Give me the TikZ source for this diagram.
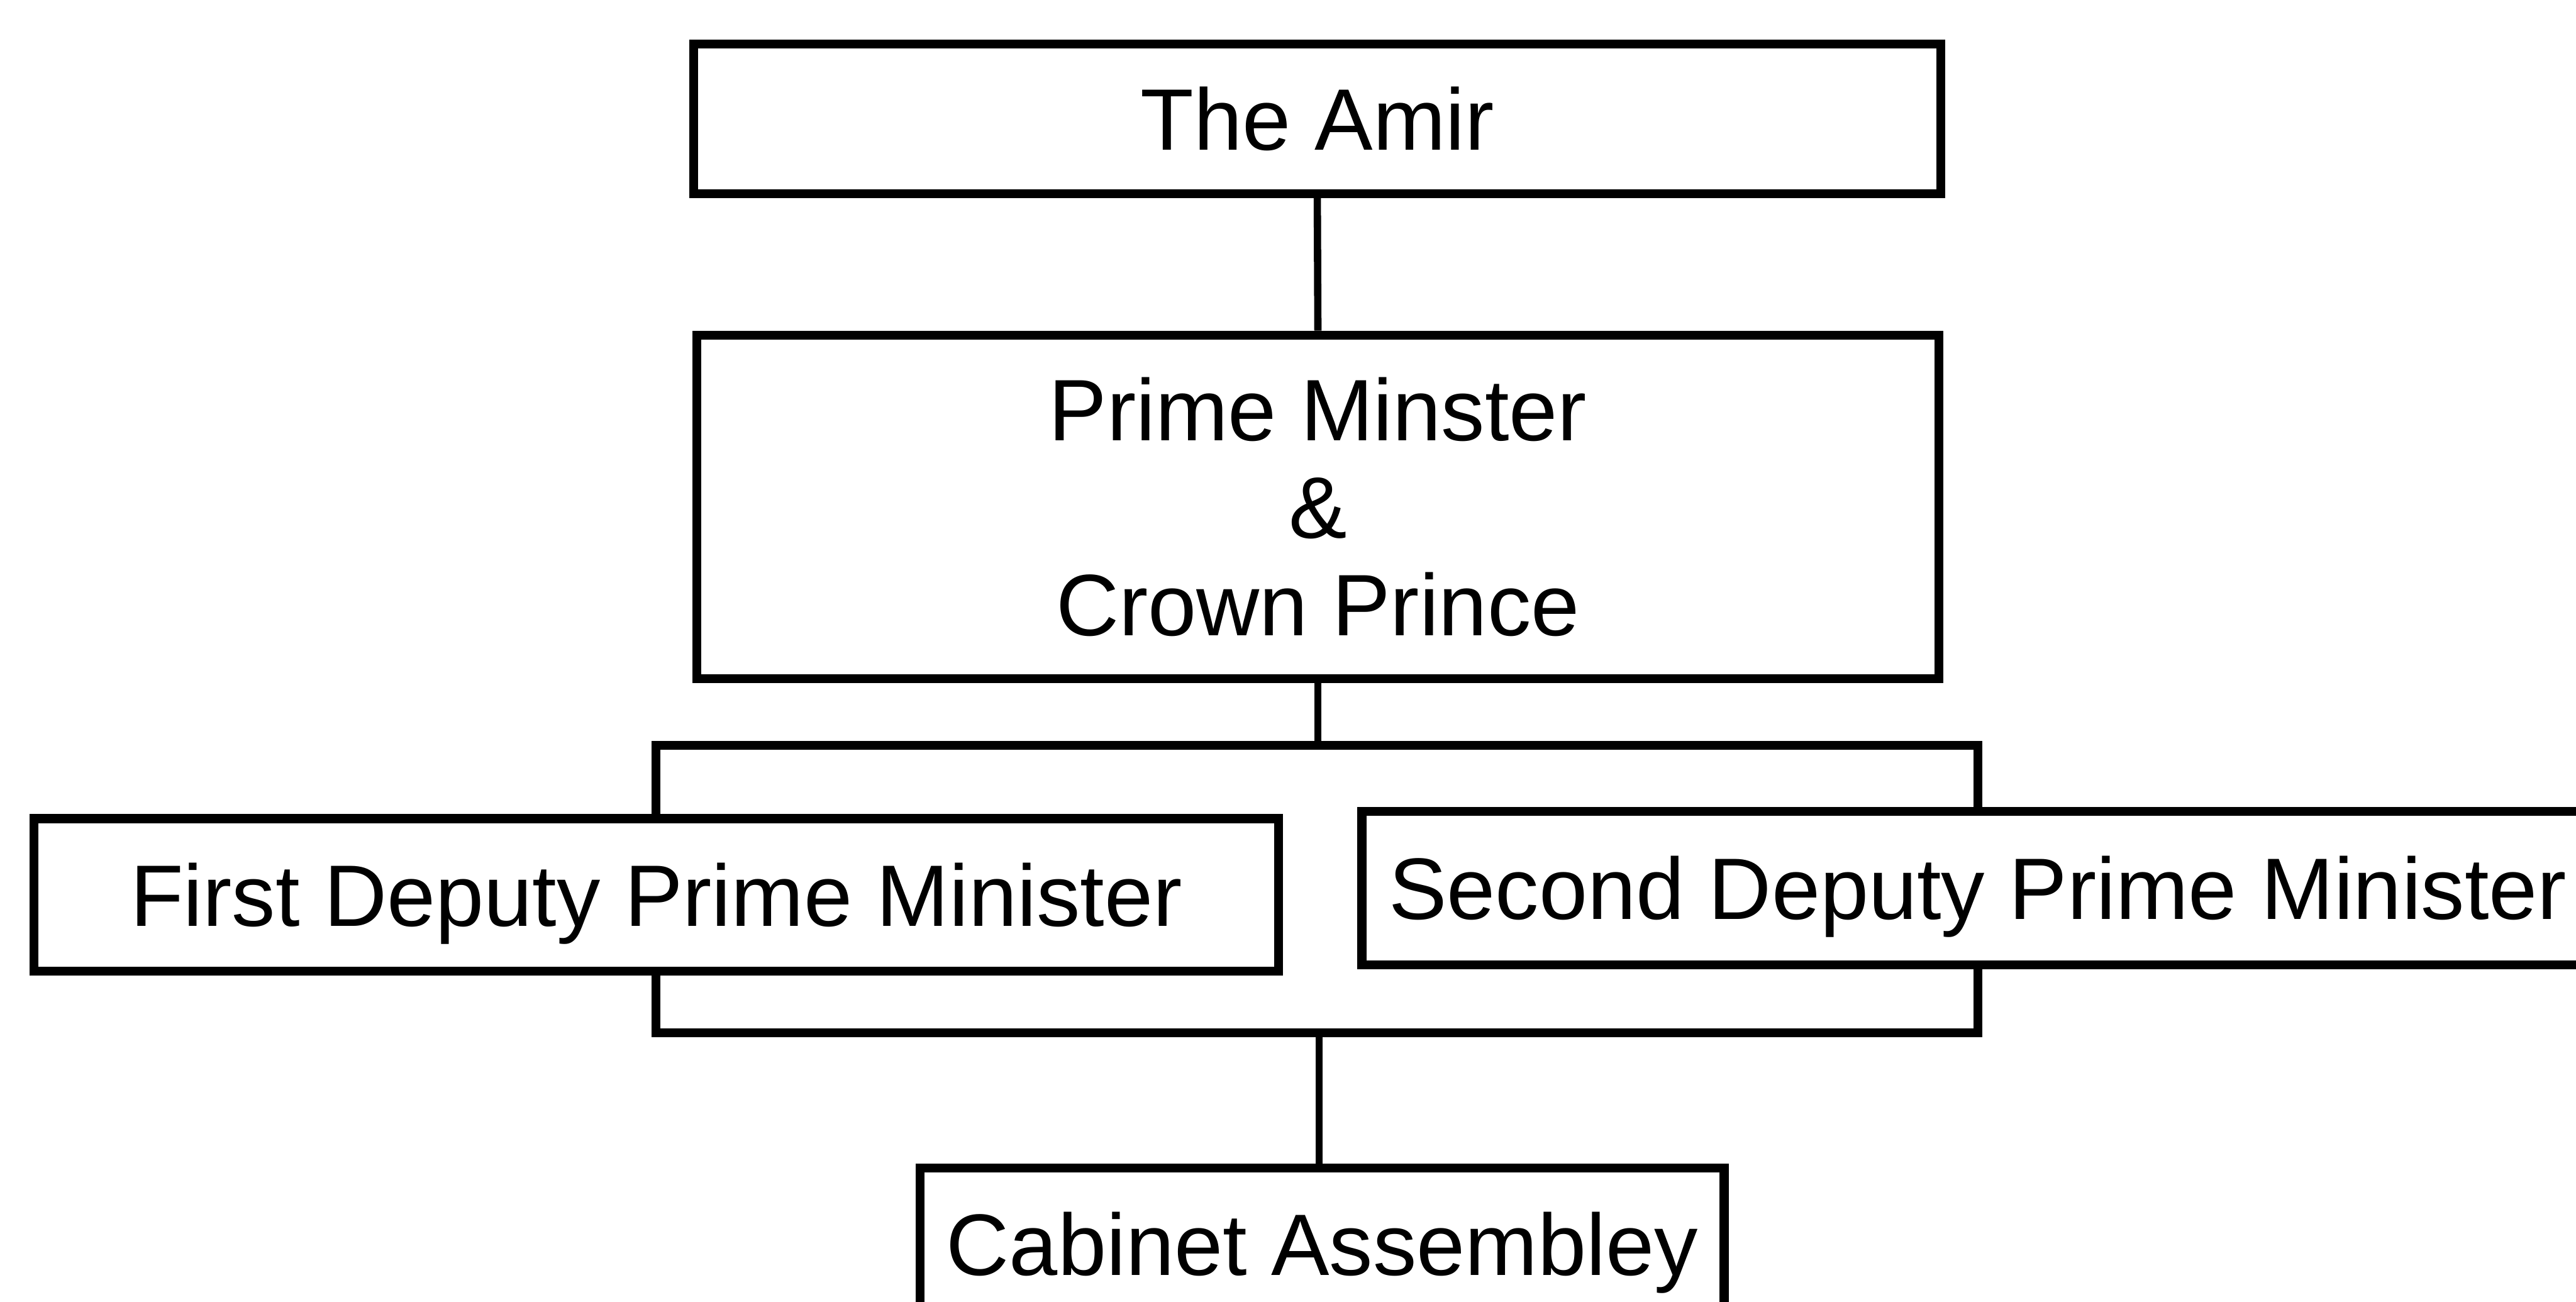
\documentclass[tikz,border=0pt]{standalone}
\usepackage{fontspec}
\setmainfont{Liberation Sans}
\begin{document}
\begin{tikzpicture}[
  box/.style={draw=black, line width=4.2pt, fill=white, inner sep=0pt,
    font=\fontsize{40.7}{45.5}\selectfont},
  one/.style={text height=1.02cm, text depth=0pt},
  bracket/.style={draw=black, line width=4.1pt, line join=miter},
  conn/.style={draw=black, line width=3.4pt}
]
\useasboundingbox (0,0) rectangle (42.24,-21.34);
\node[box, one, minimum width=20.45cm, minimum height=2.45cm] (amir) at (21.60,-1.95) {The Amir};
\node[box, align=center, minimum width=20.37cm, minimum height=5.63cm] (pm) at (21.61,-8.31)
  {Prime Minster\\\&\\Crown Prince};
\node[box, one, minimum width=20.41cm, minimum height=2.50cm] (fd) at (10.76,-14.67) {First Deputy Prime Minister};
\node[box, one, minimum width=20.20cm, minimum height=2.52cm] (sd) at (32.43,-14.56) {Second Deputy Prime Minister};
\node[box, one, minimum width=13.18cm, minimum height=2.50cm] (cab) at (21.68,-20.40) {Cabinet Assembley};
\coordinate (jt) at (21.61,-12.22);
\coordinate (jb) at (21.63,-16.93);
\draw[conn] (amir.south) -- (pm.north);
\draw[conn] (pm.south) -- (jt);
\draw[bracket] (fd.north) |- (jt) -| (sd.north);
\draw[bracket] (fd.south) |- (jb) -| (sd.south);
\draw[conn] (jb) -- (jb |- cab.north);
\end{tikzpicture}
\end{document}
